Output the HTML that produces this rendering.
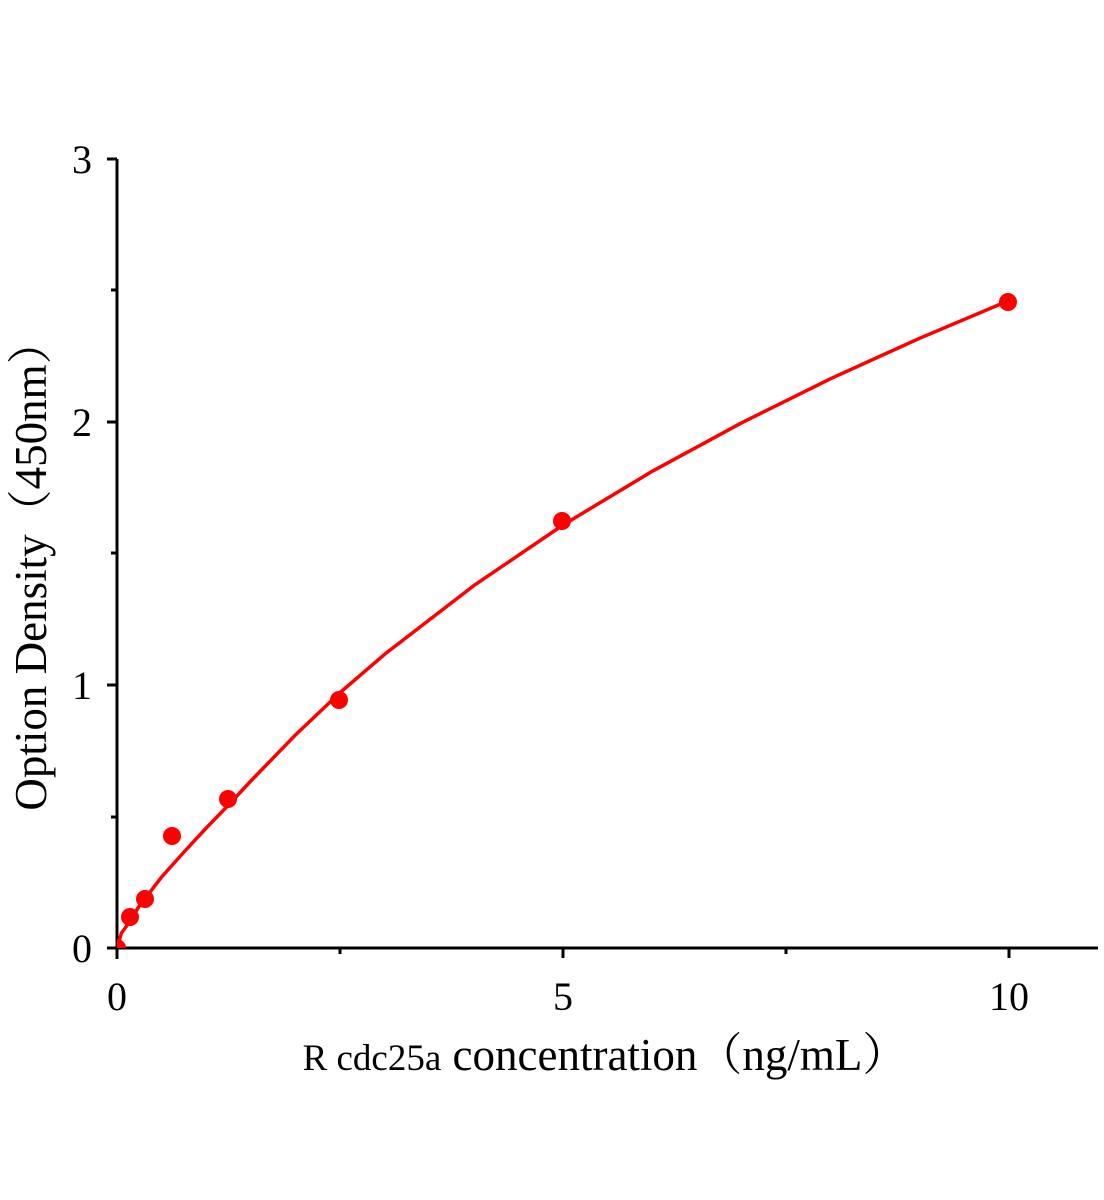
<!DOCTYPE html>
<html><head><meta charset="utf-8"><style>
body{margin:0;background:#fff}
svg{display:block}
text{font-family:"Liberation Serif","Noto Serif CJK SC",serif;fill:#000}
</style></head><body>
<svg width="1104" height="1200" viewBox="0 0 1104 1200" xmlns="http://www.w3.org/2000/svg">
<g stroke="#000" stroke-width="3" fill="none">
<line x1="117" y1="159" x2="117" y2="959"/>
<line x1="107" y1="948" x2="1098" y2="948"/>
<line x1="107" y1="159" x2="117" y2="159"/>
<line x1="107" y1="422" x2="117" y2="422"/>
<line x1="107" y1="685" x2="117" y2="685"/>
<line x1="111" y1="290" x2="117" y2="290"/>
<line x1="111" y1="553" x2="117" y2="553"/>
<line x1="111" y1="817" x2="117" y2="817"/>
<line x1="563" y1="948" x2="563" y2="958"/>
<line x1="1009" y1="948" x2="1009" y2="958"/>
<line x1="340" y1="948" x2="340" y2="954"/>
<line x1="786" y1="948" x2="786" y2="954"/>
</g>
<g font-size="40" text-anchor="end">
<text x="92" y="962">0</text>
<text x="92" y="699">1</text>
<text x="92" y="436">2</text>
<text x="92" y="173">3</text>
</g>
<g font-size="40" text-anchor="middle">
<text x="117" y="1010">0</text>
<text x="563" y="1010">5</text>
<text x="1009" y="1010">10</text>
</g>
<text x="605" y="1070" font-size="45" text-anchor="middle"><tspan font-size="37">R cdc25a</tspan> concentration（ng/mL）</text>
<text transform="translate(46,565) rotate(-90)" font-size="45" text-anchor="middle">Option Density（450nm）</text>
<clipPath id="c"><rect x="117" y="100" width="990" height="848"/></clipPath>
<polyline clip-path="url(#c)" fill="none" stroke="#f00" stroke-width="3.5" stroke-linejoin="round"
points="117,948 121.5,933 125.9,927 139.3,906 161.6,877 184,852 206.2,828 228.5,805 250.8,781 295.4,735 339.6,693 384.6,654.3 473.8,585.6 563,525 652.2,471.3 741.4,422.9 830.6,378.7 919.8,338.2 1009,300.5"/>
<g fill="#f00" clip-path="url(#c)">
<circle cx="117" cy="948" r="9"/>
<circle cx="130" cy="917" r="9"/>
<circle cx="145" cy="899" r="9"/>
<circle cx="172" cy="836" r="9"/>
<circle cx="228" cy="799" r="9"/>
<circle cx="339" cy="700" r="9"/>
<circle cx="562" cy="521" r="9"/>
<circle cx="1008" cy="302" r="9"/>
</g>
</svg>
</body></html>
